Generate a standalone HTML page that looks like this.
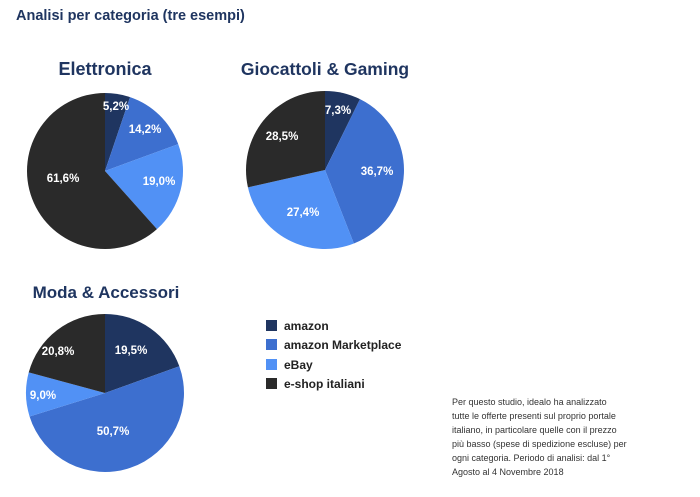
<!DOCTYPE html>
<html><head><meta charset="utf-8"><style>
body{margin:0;background:#fff;width:700px;height:492px;overflow:hidden;font-family:"Liberation Sans",sans-serif}
svg text{font-family:"Liberation Sans",sans-serif}
</style></head><body>
<svg id="s" width="700" height="492" xmlns="http://www.w3.org/2000/svg">
<text x="16" y="20" font-size="14.5" font-weight="bold" fill="#1f3560">Analisi per categoria (tre esempi)</text>
<text x="105" y="75" font-size="18" font-weight="bold" fill="#1f3560" text-anchor="middle">Elettronica</text>
<text x="325" y="75" font-size="17.5" font-weight="bold" fill="#1f3560" text-anchor="middle">Giocattoli &amp; Gaming</text>
<text x="106" y="298" font-size="17" font-weight="bold" fill="#1f3560" text-anchor="middle">Moda &amp; Accessori</text>
<g id="pies"></g>
<g font-size="11.5" font-weight="bold" fill="#fff" text-anchor="middle">
<text x="116" y="110">5,2%</text><text x="145" y="133">14,2%</text><text x="159" y="185">19,0%</text><text x="63" y="182">61,6%</text>
<text x="338" y="114">7,3%</text><text x="377" y="175">36,7%</text><text x="303" y="216">27,4%</text><text x="282" y="140">28,5%</text>
<text x="131" y="354">19,5%</text><text x="58" y="355">20,8%</text><text x="43" y="399">9,0%</text><text x="113" y="435">50,7%</text>
</g>
<g font-size="12" font-weight="bold" fill="#222">
<rect x="266" y="320" width="11" height="11" fill="#1f3560"/><text x="284" y="330">amazon</text>
<rect x="266" y="339" width="11" height="11" fill="#3d6fcf"/><text x="284" y="349">amazon Marketplace</text>
<rect x="266" y="359" width="11" height="11" fill="#5191f5"/><text x="284" y="369">eBay</text>
<rect x="266" y="378" width="11" height="11" fill="#2a2a2a"/><text x="284" y="388">e-shop italiani</text>
</g>
<g font-size="9" fill="#333">
<text x="452" y="405">Per questo studio, idealo ha analizzato</text>
<text x="452" y="419">tutte le offerte presenti sul proprio portale</text>
<text x="452" y="433">italiano, in particolare quelle con il prezzo</text>
<text x="452" y="447">più basso (spese di spedizione escluse) per</text>
<text x="452" y="461">ogni categoria. Periodo di analisi: dal 1°</text>
<text x="452" y="475">Agosto al 4 Novembre 2018</text>
</g>
</svg>
<script>
var cols=["#1f3560","#3d6fcf","#5191f5","#2a2a2a"];
var pies=[[105,171,78,[5.2,14.2,19.0,61.6]],[325,170,79,[7.3,36.7,27.4,28.5]],[105,393,79,[19.5,50.7,9.0,20.8]]];
var g=document.getElementById("pies"),h="";
pies.forEach(function(p){var cx=p[0],cy=p[1],r=p[2],v=p[3],t=v.reduce(function(a,b){return a+b},0),a=0;
v.forEach(function(x,i){var a0=a/t*2*Math.PI;a+=x;var a1=a/t*2*Math.PI;
var x0=cx+r*Math.sin(a0),y0=cy-r*Math.cos(a0),x1=cx+r*Math.sin(a1),y1=cy-r*Math.cos(a1);
h+='<path d="M'+cx+','+cy+'L'+x0+','+y0+'A'+r+','+r+' 0 '+((a1-a0)>Math.PI?1:0)+' 1 '+x1+','+y1+'Z" fill="'+cols[i]+'"/>';});});
g.innerHTML=h;
</script>
</body></html>
